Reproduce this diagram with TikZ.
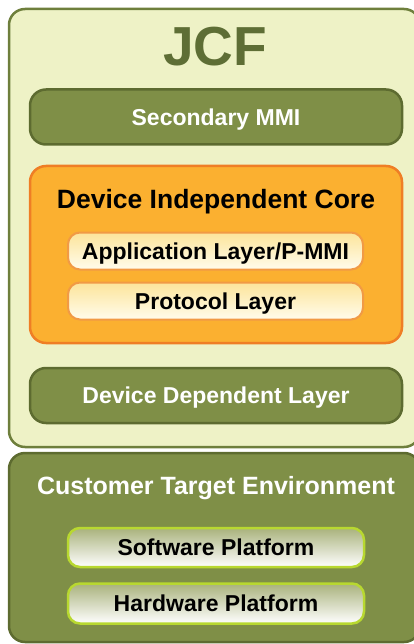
\documentclass[tikz,border=0pt]{standalone}
\usepackage{fontspec}
\setmainfont{Liberation Sans}
\definecolor{jcfback}{HTML}{EEF2C6}
\definecolor{jcfline}{HTML}{6E7F3C}
\definecolor{jcftext}{HTML}{5E6E35}
\definecolor{olivefill}{HTML}{7F8F47}
\definecolor{oliveline}{HTML}{5D6B30}
\definecolor{corefill}{HTML}{FBB030}
\definecolor{coreline}{HTML}{EF7E25}
\definecolor{layertop}{HTML}{FCE49A}
\definecolor{layerbot}{HTML}{FFFCEC}
\definecolor{layerline}{HTML}{F19A45}
\definecolor{platline}{HTML}{B8D830}
\definecolor{plattop}{HTML}{A9B27C}

\begin{document}
\begin{tikzpicture}[x=1pt,y=-1pt,
    box/.style={rectangle,rounded corners=16pt,inner sep=0pt,font=\bfseries\fontsize{23}{23}\selectfont,
      text height=16.5pt,text depth=0pt},
    darkbox/.style={box,fill=olivefill,draw=oliveline,line width=2.5pt,text=white,
      minimum width=372pt,minimum height=55pt},
    layerbox/.style={box,rounded corners=12pt,top color=layertop,bottom color=layerbot,draw=layerline,
      line width=2pt,minimum width=295pt,minimum height=37pt},
    platbox/.style={box,rounded corners=12pt,top color=plattop,bottom color=white,draw=platline,
      line width=2.5pt,minimum width=296pt,minimum height=39pt},
    title/.style={inner sep=0pt,text depth=0pt}]
  \useasboundingbox (0,0) rectangle (414,644);
  \clip (0,0) rectangle (414,644);

  % outer blocks
  \node[box,fill=jcfback,draw=jcfline,line width=2.5pt,minimum width=411pt,minimum height=438pt] (jcf) at (214.5,228) {};
  \node[box,fill=olivefill,draw=oliveline,line width=2.5pt,minimum width=411pt,minimum height=189pt] (cte) at (214.5,547.5) {};

  \node[title,font=\bfseries\fontsize{55}{55}\selectfont,text=jcftext,text height=39.4pt] (jcflabel) at (215,46) {JCF};
  \node[darkbox] (smmi) at (216,117) {Secondary MMI};

  % device independent core
  \node[box,fill=corefill,draw=coreline,line width=2.5pt,minimum width=372pt,minimum height=177pt] (dic) at (216,254.5) {};
  \node[title,font=\bfseries\fontsize{26.5}{26.5}\selectfont,text height=19pt] (diclabel) at (216,198.5) {Device Independent Core};
  \node[layerbox] (app) at (215.5,251) {Application Layer/P-MMI};
  \node[layerbox] (proto) at (215.5,301) {Protocol Layer};

  \node[darkbox] (ddl) at (216,395.5) {Device Dependent Layer};

  % customer target environment
  \node[title,font=\bfseries\fontsize{25}{25}\selectfont,text=white,text height=17.9pt] (ctelabel) at (216,486) {Customer Target Environment};
  \node[platbox] (soft) at (216,547.5) {Software Platform};
  \node[platbox,minimum height=40pt] (hard) at (216,603.5) {Hardware Platform};
\end{tikzpicture}
\end{document}
